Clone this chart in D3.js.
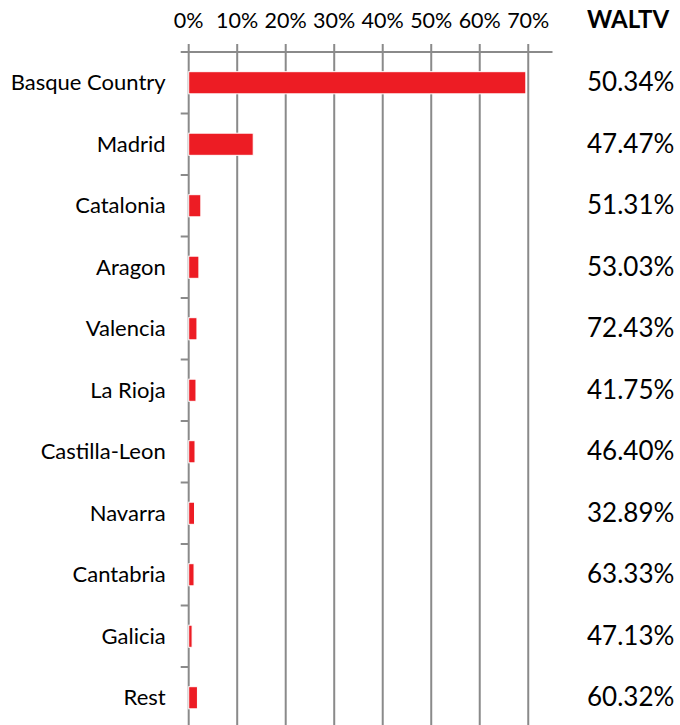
<!DOCTYPE html>
<html>
<head>
<meta charset="utf-8">
<script src="https://cdn.jsdelivr.net/npm/d3@7"></script>
<style>
  body { margin: 0; background: #fff; }
  text { font-family: Lato, 'Open Sans', sans-serif; fill: #000; }
</style>
</head>
<body>
<div id="wrapper"></div>
<script>
// share of exposure by region (bars) and WALTV (right column)
const regions = ['Basque Country', 'Madrid', 'Catalonia', 'Aragon', 'Valencia', 'La Rioja',
  'Castilla-Leon', 'Navarra', 'Cantabria', 'Galicia', 'Rest']
const shares = [0.695, 0.133, 0.025, 0.021, 0.017, 0.015, 0.013, 0.012, 0.011, 0.007, 0.018]
const waltv = ['50.34%', '47.47%', '51.31%', '53.03%', '72.43%', '41.75%', '46.40%', '32.89%', '63.33%', '47.13%', '60.32%']
const xTicks = [0, 0.1, 0.2, 0.3, 0.4, 0.5, 0.6, 0.7]

const dimensions = {
  width: 680,
  height: 725,
  margin: { top: 52, left: 188.7 },
  boundedWidth: 363.8,
  boundedHeight: 676.5,
}

const data = regions.map((r, i) => ({ region: r, share: shares[i], waltv: waltv[i] }))

const wrapper = d3
  .select('#wrapper')
  .append('svg')
  .attr('width', dimensions.width)
  .attr('height', dimensions.height)

const bounds = wrapper
  .append('g')
  .attr('transform', `translate(${dimensions.margin.left}, ${dimensions.margin.top})`)

const xScale = d3.scaleLinear().domain([0, 0.75]).range([0, dimensions.boundedWidth])
const yScale = d3
  .scaleBand()
  .domain(regions)
  .range([0, dimensions.boundedHeight])
  .paddingInner(0.64)
  .paddingOuter(0.32)

const gridColor = '#8a8a8a'

// vertical gridlines (also serve as top ticks)
bounds
  .append('g')
  .selectAll('line')
  .data(xTicks)
  .enter()
  .append('line')
  .attr('x1', (d) => xScale(d))
  .attr('x2', (d) => xScale(d))
  .attr('y1', -8)
  .attr('y2', dimensions.boundedHeight)
  .attr('stroke', gridColor)
  .attr('stroke-width', 2)

// top axis line
bounds
  .append('line')
  .attr('x1', -8)
  .attr('x2', xScale(0.75))
  .attr('y1', 0)
  .attr('y2', 0)
  .attr('stroke', gridColor)
  .attr('stroke-width', 2)

// category boundary ticks on the y axis
const step = yScale.step()
bounds
  .append('g')
  .selectAll('line')
  .data(d3.range(1, regions.length + 1))
  .enter()
  .append('line')
  .attr('x1', -8)
  .attr('x2', 0)
  .attr('y1', (d) => d * step)
  .attr('y2', (d) => d * step)
  .attr('stroke', gridColor)
  .attr('stroke-width', 2)

// tick labels
bounds
  .append('g')
  .selectAll('text')
  .data(xTicks)
  .enter()
  .append('text')
  .attr('x', (d) => xScale(d))
  .attr('y', -24)
  .attr('text-anchor', 'middle')
  .style('font-size', '21.5px')
  .text(d3.format('.0%'))

// bars
bounds
  .append('g')
  .selectAll('rect')
  .data(data)
  .enter()
  .append('rect')
  .attr('x', xScale(0))
  .attr('y', (d) => yScale(d.region))
  .attr('width', (d) => xScale(d.share))
  .attr('height', yScale.bandwidth())
  .attr('fill', '#ED1C24')
  .attr('stroke', '#fff')
  .attr('stroke-width', 1)

// category labels
bounds
  .append('g')
  .selectAll('text')
  .data(data)
  .enter()
  .append('text')
  .attr('x', -23)
  .attr('y', (d) => yScale(d.region) + yScale.bandwidth() / 2)
  .attr('dy', '0.35em')
  .attr('text-anchor', 'end')
  .style('font-size', '22px')
  .text((d) => d.region)

// WALTV column
wrapper
  .append('text')
  .attr('x', 587)
  .attr('y', 28)
  .style('font-size', '24px')
  .style('font-weight', 'bold')
  .text('WALTV')

wrapper
  .append('g')
  .attr('transform', `translate(587, ${dimensions.margin.top})`)
  .selectAll('text')
  .data(data)
  .enter()
  .append('text')
  .attr('y', (d) => yScale(d.region) + yScale.bandwidth() / 2)
  .attr('dy', '0.33em')
  .style('font-size', '26px')
  .text((d) => d.waltv)
</script>
</body>
</html>
